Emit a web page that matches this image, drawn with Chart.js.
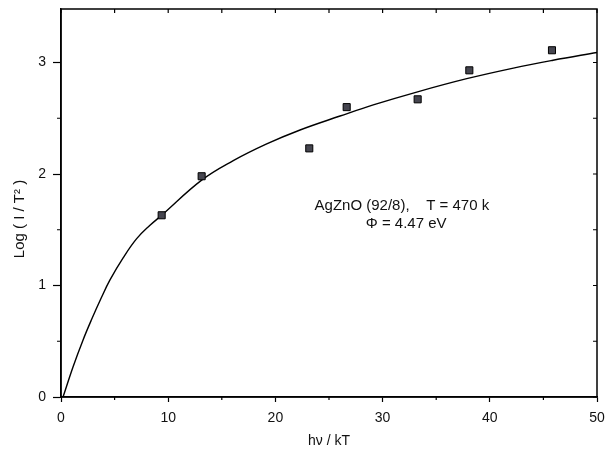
<!DOCTYPE html>
<html>
<head>
<meta charset="utf-8">
<script src="https://cdn.jsdelivr.net/npm/chart.js@4.4.1/dist/chart.umd.min.js"></script>
<style>
  html, body { margin: 0; padding: 0; background: #fff; }
  #wrap { width: 605px; height: 456px; }
</style>
</head>
<body>
<div id="wrap"><canvas id="grafico" width="605" height="456"></canvas></div>
<script>
// pontos medidos (quadrados)
const pontosX = [9.39, 13.12, 23.16, 26.65, 33.27, 38.09, 45.8];
const pontosY = [1.63, 1.98, 2.23, 2.60, 2.67, 2.93, 3.11];

// curva ajustada
const curvaX = [0.19, 1.12, 2.05, 2.83, 3.76, 4.57, 5.81, 7.06, 8.3, 9.39, 13.12, 16.07, 19.19, 22.3, 26.03, 29.13, 33.18, 37.85, 42.2, 45.9, 50];
const curvaY = [0, 0.27, 0.51, 0.69, 0.89, 1.05, 1.25, 1.42, 1.54, 1.63, 1.945, 2.12, 2.27, 2.395, 2.52, 2.62, 2.735, 2.855, 2.95, 3.02, 3.09];

const ticksX = [0, 10, 20, 30, 40, 50];
const ticksY = [0, 1, 2, 3];
const minorX = [5, 15, 25, 35, 45];
const minorY = [0.5, 1.5, 2.5];

const legenda1 = 'AgZnO (92/8),    T = 470 k';
const legenda2 = '\u03A6 = 4.47 eV';
const tituloX = 'h\u03BD / kT';
const tituloY = 'Log ( I / T\u00B2 )';

const FONTE = '"Liberation Sans", Arial, sans-serif';

// desenha moldura, ticks menores/espelhados e textos
const extras = {
    id: 'extras',
    afterDraw(chart) {
        const { ctx, chartArea: a, scales: { x, y } } = chart;
        ctx.save();
        ctx.strokeStyle = '#000';
        ctx.lineWidth = 1.5;
        ctx.strokeRect(a.left, a.top, a.right - a.left, a.bottom - a.top);

        ctx.lineWidth = 1.2;
        ctx.beginPath();
        minorX.forEach(v => {
            const px = x.getPixelForValue(v);
            ctx.moveTo(px, a.bottom); ctx.lineTo(px, a.bottom + 3);
        });
        minorY.forEach(v => {
            const py = y.getPixelForValue(v);
            ctx.moveTo(a.left, py); ctx.lineTo(a.left - 4, py);
        });
        // ticks internos em cima e à direita
        ticksX.concat(minorX).forEach(v => {
            const px = x.getPixelForValue(v);
            ctx.moveTo(px, a.top); ctx.lineTo(px, a.top + 4);
        });
        ticksY.concat(minorY).forEach(v => {
            const py = y.getPixelForValue(v);
            ctx.moveTo(a.right, py); ctx.lineTo(a.right - 4, py);
        });
        ctx.stroke();

        ctx.fillStyle = '#111';
        ctx.font = '15px ' + FONTE;
        ctx.textAlign = 'center';
        ctx.textBaseline = 'middle';
        ctx.fillText(legenda1, x.getPixelForValue(31.8), y.getPixelForValue(1.71));
        ctx.fillText(legenda2, x.getPixelForValue(32.2), y.getPixelForValue(1.555));

        ctx.translate(20, 219);
        ctx.rotate(-Math.PI / 2);
        ctx.fillText(tituloY, 0, 0);
        ctx.restore();
    }
};

new Chart(document.getElementById('grafico'), {
    type: 'scatter',
    data: {
        datasets: [
            {
                label: 'pontos',
                data: pontosX.map((v, i) => ({ x: v, y: pontosY[i] })),
                pointStyle: 'rect',
                pointRadius: 5,
                backgroundColor: '#45454f',
                borderColor: '#000',
                borderWidth: 1,
                order: 1
            },
            {
                label: 'ajuste',
                data: curvaX.map((v, i) => ({ x: v, y: curvaY[i] })),
                showLine: true,
                pointRadius: 0,
                borderColor: '#000',
                borderWidth: 1.4,
                tension: 0.4,
                order: 2
            }
        ]
    },
    options: {
        responsive: false,
        animation: false,
        layout: { padding: { top: 9, right: 8, left: 0, bottom: 0 } },
        plugins: { legend: { display: false }, tooltip: { enabled: false } },
        scales: {
            x: {
                type: 'linear', min: 0, max: 50,
                afterBuildTicks: s => { s.ticks = ticksX.map(v => ({ value: v })); },
                afterFit: s => { s.height = 59; s.paddingLeft = 0; s.paddingRight = 0; },
                grid: { drawOnChartArea: false, color: '#000', tickLength: 5, tickWidth: 1.2 },
                border: { color: '#000', width: 1.5 },
                ticks: { color: '#111', font: { family: FONTE, size: 14 }, padding: 8, maxRotation: 0 },
                title: { display: true, text: tituloX, color: '#111', font: { family: FONTE, size: 14 }, padding: { bottom: 6 } }
            },
            y: {
                type: 'linear', min: 0, max: 3.48,
                afterBuildTicks: s => { s.ticks = ticksY.map(v => ({ value: v })); },
                afterFit: s => { s.width = 61; s.paddingTop = 0; s.paddingBottom = 0; },
                grid: { drawOnChartArea: false, color: '#000', tickLength: 8, tickWidth: 1.2 },
                border: { color: '#000', width: 1.5 },
                ticks: { color: '#111', font: { family: FONTE, size: 14 }, padding: 7 }
            }
        }
    },
    plugins: [extras]
});
</script>
</body>
</html>
